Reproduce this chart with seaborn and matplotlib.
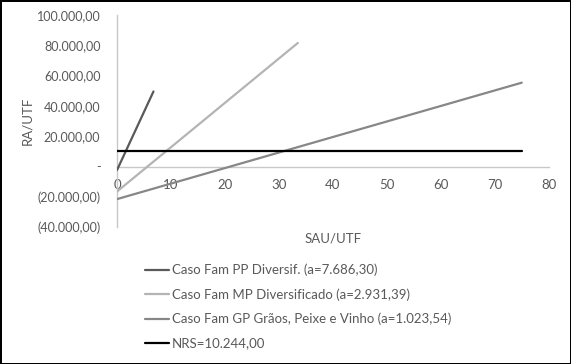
import numpy as np
import pandas as pd
import matplotlib
matplotlib.use('Agg')
import matplotlib.pyplot as plt
import seaborn as sns

# dados (extremos de cada reta)
series_names = ['Caso Fam PP Diversif. (a=7.686,30)',
                'Caso Fam MP Diversificado (a=2.931,39)',
                'Caso Fam GP Grãos, Peixe e Vinho (a=1.023,54)',
                'NRS=10.244,00']
pp_x = [0, 6.75]
pp_y = [-2300, 49500]
mp_x = [0, 33.5]
mp_y = [-16500, 81500]
gp_x = [0, 75]
gp_y = [-21500, 55300]
nrs_x = [0, 75]
nrs_y = [10244, 10244]
cores = ['#595959', '#b4b4b4', '#878787', '#000000']

x_ticks = [0, 10, 20, 30, 40, 50, 60, 70, 80]
y_ticks = [-40000, -20000, 0, 20000, 40000, 60000, 80000, 100000]

df = pd.concat([
    pd.DataFrame({'serie': series_names[0], 'x': pp_x, 'y': pp_y}),
    pd.DataFrame({'serie': series_names[1], 'x': mp_x, 'y': mp_y}),
    pd.DataFrame({'serie': series_names[2], 'x': gp_x, 'y': gp_y}),
    pd.DataFrame({'serie': series_names[3], 'x': nrs_x, 'y': nrs_y}),
])

sns.set_style('white')
plt.rcParams['font.family'] = ['Lato', 'DejaVu Sans']
texto = '#595959'


def fmt(v, pos=None):
    if v == 0:
        return '-'
    s = f'{abs(v):,.2f}'.replace(',', 'X').replace('.', ',').replace('X', '.')
    return f'({s})' if v < 0 else s


fig = plt.figure(figsize=(5.71, 3.64), dpi=100)
fig.patch.set_edgecolor('black')
fig.patch.set_linewidth(2)
ax = fig.add_axes([0.205, 0.376, 0.756, 0.583])

sns.lineplot(data=df, x='x', y='y', hue='serie', hue_order=series_names,
             palette=cores, linewidth=1.6, ax=ax, sort=False, estimator=None)

ax.set_xlim(0, 80)
ax.set_ylim(-40000, 100000)
ax.set_xticks(x_ticks)
ax.set_yticks(y_ticks)
ax.yaxis.set_major_formatter(plt.FuncFormatter(fmt))

for s in ['top', 'right']:
    ax.spines[s].set_visible(False)
ax.spines['bottom'].set_position(('data', 0))
for s in ['bottom', 'left']:
    ax.spines[s].set_color('#c8c8c8')
    ax.spines[s].set_linewidth(1)
    ax.spines[s].set_zorder(1)

ax.tick_params(axis='x', length=0, pad=9, labelsize=9.5, labelcolor=texto)
ax.tick_params(axis='y', length=0, pad=12, labelsize=9, labelcolor=texto)

ax.set_xlabel('SAU/UTF', fontsize=9.5, color=texto)
ax.set_ylabel('RA/UTF', fontsize=9.5, color=texto)
ax.xaxis.set_label_coords(0.5, -0.025)
ax.yaxis.set_label_coords(-0.195, 0.5)

ax.legend(loc='upper left', bbox_to_anchor=(0.254, 0.275),
          bbox_transform=fig.transFigure, frameon=False, fontsize=9.5,
          labelcolor=texto, handlelength=1.8, handletextpad=0.25,
          labelspacing=0.9, borderpad=0, borderaxespad=0)

fig.savefig('out.png', dpi=100)
